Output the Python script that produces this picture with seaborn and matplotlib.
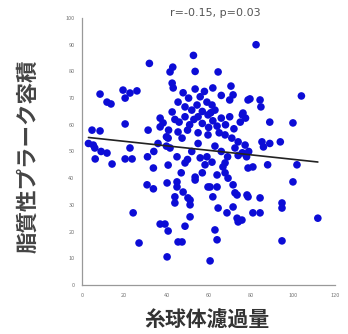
import matplotlib
matplotlib.use("Agg")
import matplotlib.pyplot as plt
import seaborn as sns
import pandas as pd

# Glomerular filtration (x) and lipid plaque volume (y)
gfr = [
    82.5, 52.8, 31.9, 43, 41.7, 53.6, 64.5, 42.7, 43.2, 53.6, 62, 70.6, 8.5, 19.4, 22.7, 26, 20.4, 11.8, 13.7,
    104, 79.6, 84.4, 84.8, 71.6, 70, 47.9, 45.5, 48.8, 54.5, 59.2, 61.6, 63, 78.7, 56, 66, 50.5, 58,
    42.7, 55, 59.7, 76.3, 48.8, 20.4, 31.3, 4.7, 8.5, 37, 38.4, 37, 89, 100, 76, 77.5, 75, 45.5, 55, 59.7,
    67.8, 46, 51, 53, 57, 62, 64, 66, 68, 70, 72, 44, 60, 50, 41, 65, 61, 57, 52,
    47.4, 40.8, 41.7, 71, 74, 77.3, 72.5, 89, 94, 85.3, 86, 5.3, 6, 22.7, 11.8, 40, 40, 56, 59.2, 61.6, 58.3,
    48.8, 67.8, 6.2, 14.2, 20.4, 23.7, 74, 76, 78, 79, 52, 55, 63, 66, 69, 45, 50, 34, 36, 31, 9, 3,
    33.8, 40.8, 30.8, 33.8, 40.3, 45, 45, 47.9, 44, 44, 51.2, 51.2, 53.6, 60.7, 62, 64, 71.6, 72.5, 64, 66.8,
    67.8, 69.2, 78.7, 84.4, 88, 81, 78.7, 100, 101.9, 94.8, 53.6, 50.2, 73.5, 59.7, 78.2, 57, 47,
    64.5, 68.7, 71.6, 73.5, 74, 75.8, 81, 84.4, 94.8, 111.8, 24.2, 51.2, 37, 39.3, 40.8, 48.8, 45.5, 47.4,
    27, 40.3, 60.7, 63, 64, 94.8,
]
plaque = [
    90, 86, 83, 81.6, 79.8, 80, 79.8, 75.6, 73.8, 73.4, 73.8, 74.5, 71.5, 73, 71.9, 72.7, 70, 68.5, 67.8,
    70.8, 69.7, 69.3, 66.7, 71.2, 69.3, 72, 68.5, 66.7, 67.4, 68.5, 67.4, 65.5, 69.3, 70.5, 71, 70, 72.5,
    64.8, 63, 63.7, 64.4, 63, 60.3, 58, 58, 57.7, 62.5, 60.7, 59.2, 61, 60.7, 63.7, 62.5, 61, 57.3, 57, 56.2,
    56.2, 61, 60, 62, 60.5, 61.5, 59.5, 62.5, 60, 63, 58.5, 62, 59, 58, 58, 57, 64.5, 65, 65.5,
    55, 55, 51.3, 55, 53.6, 52.4, 51.3, 53, 53.6, 53.6, 51.7, 52.4, 51.3, 51.3, 49.4, 55.5, 52, 47.6, 48, 46, 45,
    45.7, 45.7, 47.2, 45.3, 47.2, 47.2, 48.5, 49.5, 48, 50, 50, 53, 52, 50, 48, 48, 47, 50, 53, 48, 50, 53,
    43.8, 44.9, 37.5, 36, 38.2, 38.6, 36.7, 34.8, 33, 30.7, 31.8, 30, 39.3, 36.7, 33, 36.7, 37.5, 34.5, 41.2, 44.2,
    42, 40, 33, 32.6, 45, 44.2, 43.8, 38.6, 45, 30.7, 40.4, 32.6, 33.7, 36.7, 33.7, 42, 42,
    28.8, 27, 29.2, 25, 23.6, 24.3, 27, 27, 28.8, 25, 27, 25.5, 22.8, 22.8, 20.2, 22, 16.1, 16.1,
    15.7, 10.5, 9, 20.6, 16.9, 16.5,
]
x_ticks = [0, 20, 40, 60, 80, 100, 120]
y_ticks = [0, 10, 20, 30, 40, 50, 60, 70, 80, 90, 100]
title_text = "r=-0.15, p=0.03"
x_label = "糸球体濾過量"
y_label = "脂質性プラーク容積"

df = pd.DataFrame({"gfr": gfr, "plaque": plaque})

sns.set_style("white")
plt.rcParams["font.family"] = ["Noto Sans CJK JP", "DejaVu Sans"]

fig = plt.figure(figsize=(3.48, 3.34), dpi=100)
ax = fig.add_axes([0.236, 0.147, 0.727, 0.799])

sns.regplot(data=df, x="gfr", y="plaque", ax=ax, ci=None, truncate=True,
            scatter_kws=dict(s=30, color="#0c0cd6", edgecolor="none", alpha=1),
            line_kws=dict(color="#222222", lw=1.2))

ax.set_xlim(0, 120)
ax.set_ylim(0, 100)
ax.set_xticks(x_ticks)
ax.set_yticks(y_ticks)
ax.set_xticklabels([str(t) for t in x_ticks])
ax.set_yticklabels([str(t) for t in y_ticks])
ax.tick_params(axis="both", direction="inout", length=5, width=0.8, colors="#999999",
               labelsize=4, labelcolor="#777777", pad=3)
for side in ["top", "right"]:
    ax.spines[side].set_visible(False)
for side in ["left", "bottom"]:
    ax.spines[side].set_color("#999999")
    ax.spines[side].set_linewidth(0.9)
ax.set_xlabel("")
ax.set_ylabel("")

fig.text(0.618, 0.962, title_text, ha="center", va="center", fontsize=8,
         color="#555555", family=["DejaVu Sans"])
fig.text(0.595, 0.042, x_label, ha="center", va="center", fontsize=15,
         fontweight="bold", color="#333333")
fig.text(0.08, 0.533, y_label, ha="center", va="center", fontsize=15.5,
         rotation=90, fontweight="bold", color="#444444")

fig.savefig("out.png", dpi=100)
